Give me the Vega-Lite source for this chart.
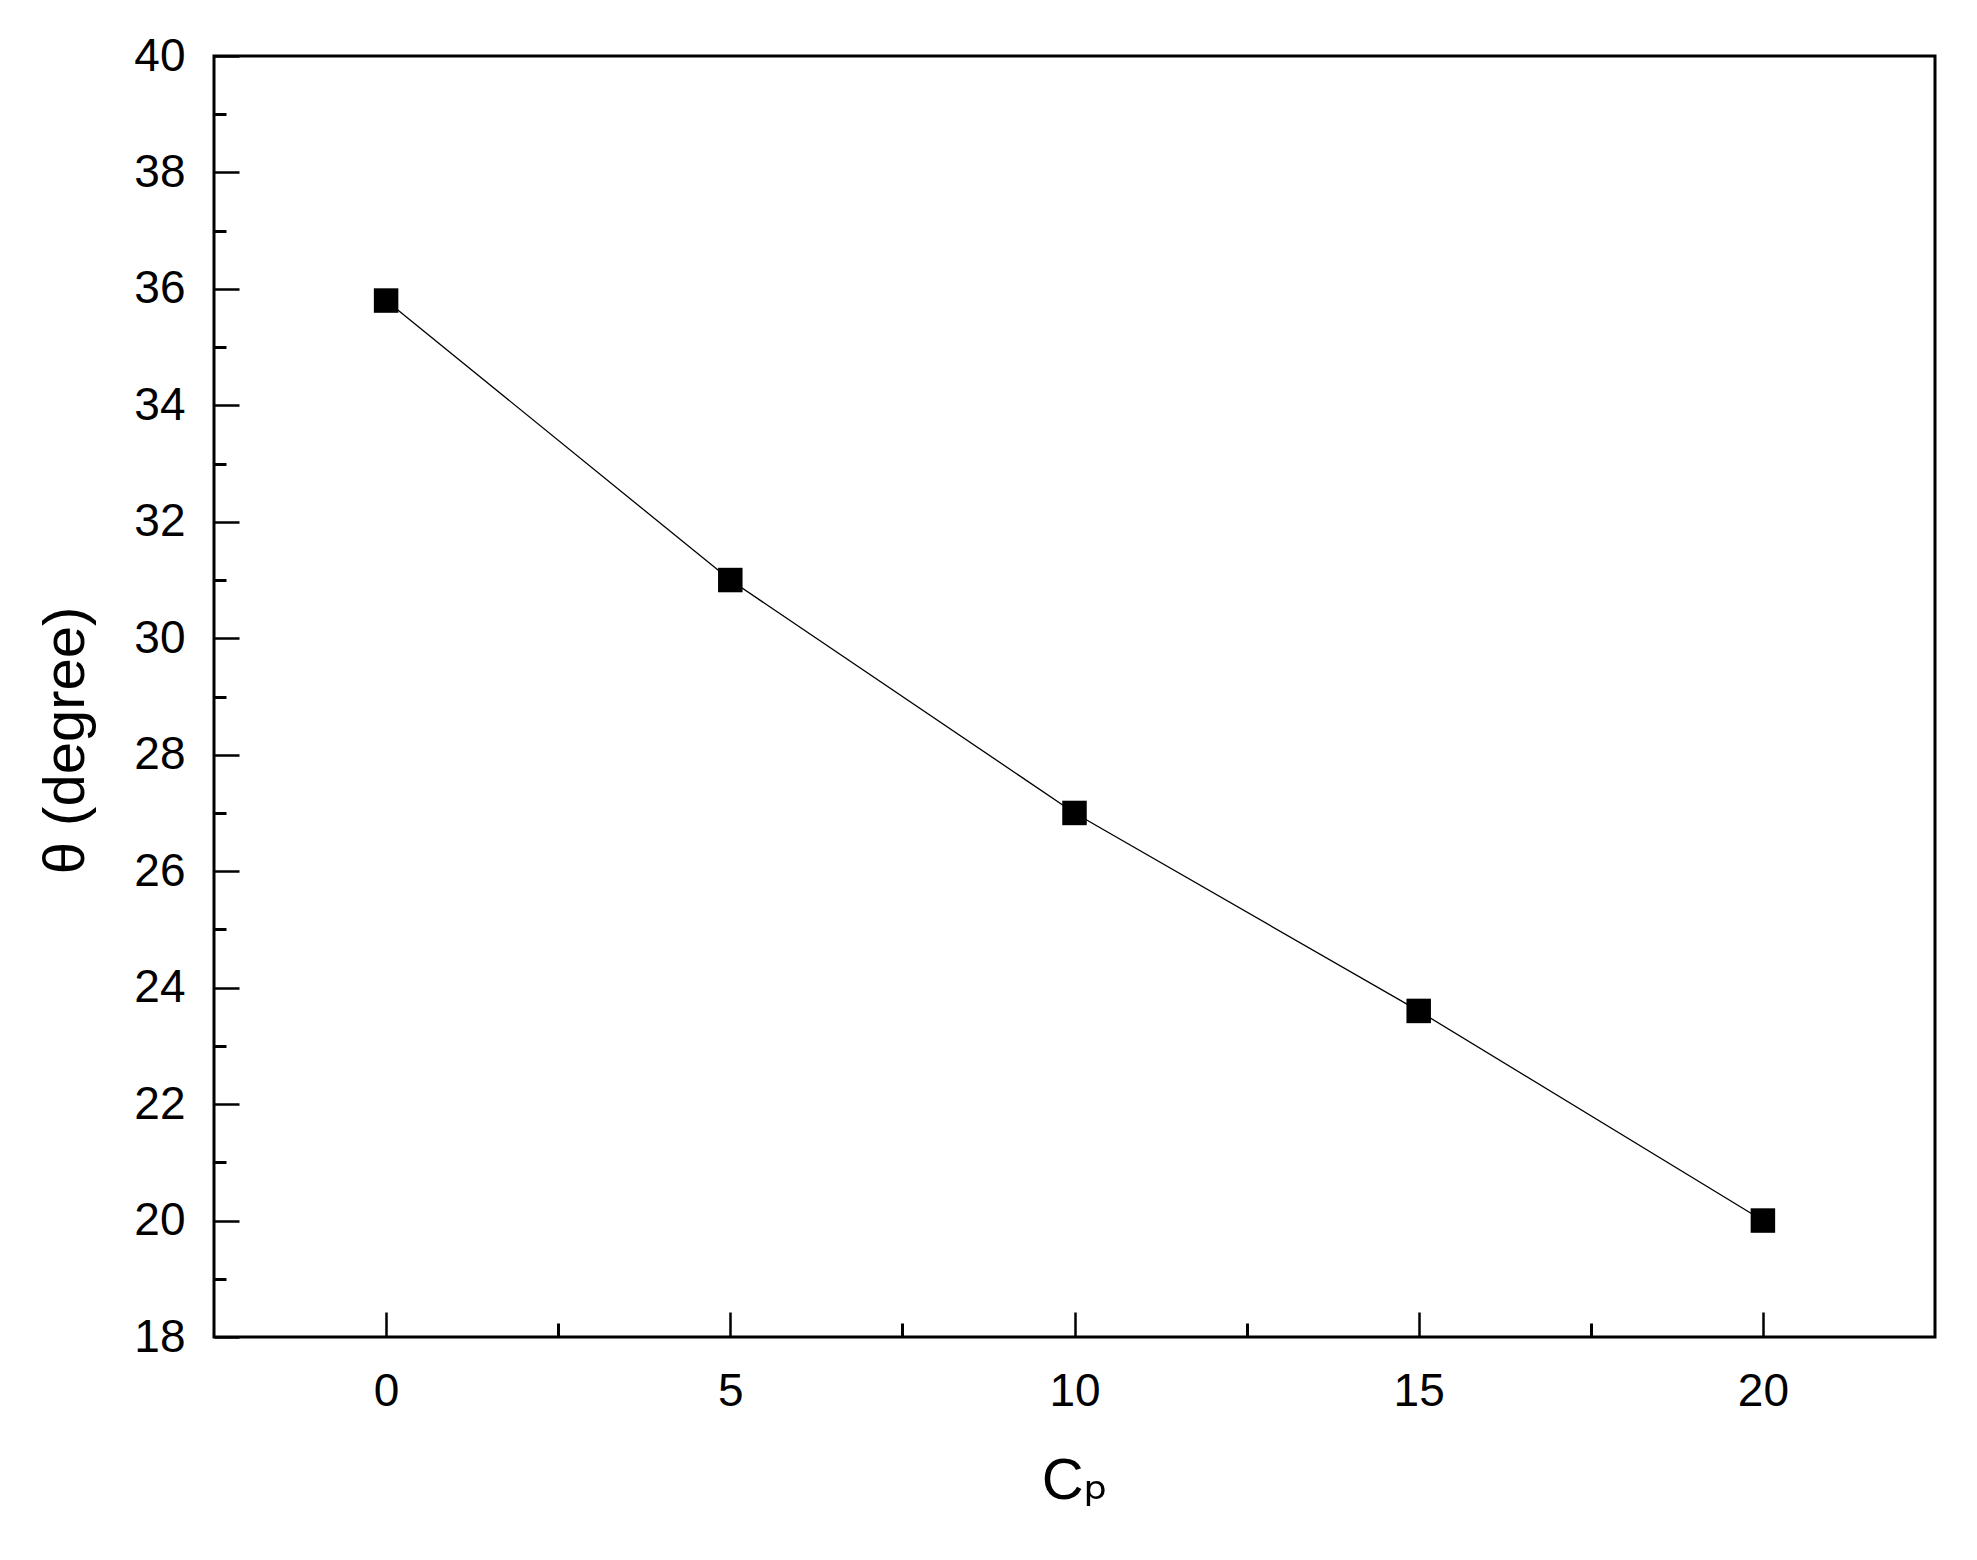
{
  "$schema": "https://vega.github.io/schema/vega-lite/v6.json",
  "width": 1721,
  "height": 1281,
  "autosize": "none",
  "padding": {"left": 214, "top": 56, "right": 42, "bottom": 223},
  "background": "white",
  "config": {
    "view": {"stroke": "black", "strokeWidth": 3},
    "axis": {
      "domain": false,
      "grid": false,
      "labelFont": "Liberation Sans, Arial, DejaVu Sans",
      "titleFont": "Liberation Sans, Arial, DejaVu Sans",
      "labelFontSize": 46,
      "titleFontSize": 58,
      "titleFontWeight": "normal",
      "labelColor": "black",
      "titleColor": "black",
      "tickColor": "black",
      "labelOverlap": false,
      "labelFlush": false
    }
  },
  "data": {
    "values": [
      {"Cp": 0, "theta": 35.8},
      {"Cp": 5, "theta": 31.0},
      {"Cp": 10, "theta": 27.0},
      {"Cp": 15, "theta": 23.6},
      {"Cp": 20, "theta": 20.0}
    ]
  },
  "layer": [
    {
      "mark": {"type": "line", "color": "black", "strokeWidth": 1.3},
      "encoding": {
        "x": {
          "field": "Cp", "type": "quantitative",
          "scale": {"domain": [-2.5, 22.5], "nice": false, "zero": false},
          "axis": {"orient": "bottom", "values": [0, 5, 10, 15, 20], "tickSize": -25, "tickWidth": 2.5, "labelPadding": 57, "title": "Cₚ", "titlePadding": 38}
        },
        "y": {
          "field": "theta", "type": "quantitative",
          "scale": {"domain": [18, 40], "nice": false, "zero": false},
          "axis": {"orient": "left", "values": [18, 20, 22, 24, 26, 28, 30, 32, 34, 36, 38, 40], "tickSize": -25, "tickWidth": 2.5, "labelPadding": 54, "title": "θ (degree)", "titlePadding": 38, "titleY": 684}
        }
      }
    },
    {
      "mark": {"type": "point", "shape": "square", "filled": true, "size": 600, "color": "black", "opacity": 1},
      "encoding": {
        "x": {
          "field": "Cp", "type": "quantitative",
          "scale": {"domain": [-2.5, 22.5], "nice": false, "zero": false},
          "axis": {"orient": "bottom", "values": [2.5, 7.5, 12.5, 17.5], "tickSize": -14, "tickWidth": 3, "labels": false, "title": null}
        },
        "y": {
          "field": "theta", "type": "quantitative",
          "scale": {"domain": [18, 40], "nice": false, "zero": false},
          "axis": {"orient": "left", "values": [19, 21, 23, 25, 27, 29, 31, 33, 35, 37, 39], "tickSize": -12, "tickWidth": 3, "labels": false, "title": null}
        }
      }
    }
  ],
  "resolve": {"axis": {"x": "independent", "y": "independent"}}
}
